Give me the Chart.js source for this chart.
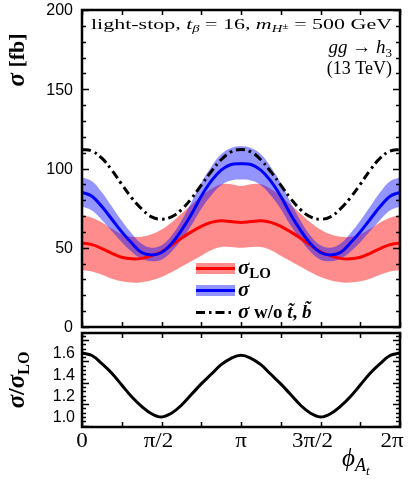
<!DOCTYPE html>
<html>
<head>
<meta charset="utf-8">
<script src="https://cdn.jsdelivr.net/npm/chart.js@4.4.1/dist/chart.umd.min.js"></script>
<style>
html, body { margin: 0; padding: 0; background: #fff; }
#wrap { position: relative; width: 410px; height: 492px; overflow: hidden; }
#top { position: absolute; left: 0; top: 0; }
#bot { position: absolute; left: 0; top: 327px; }
</style>
</head>
<body>
<div id="wrap">
  <canvas id="top" width="410" height="336"></canvas>
  <canvas id="bot" width="410" height="165"></canvas>
</div>
<script>
// phase phi_At in units of pi
const phi = [0, 0.0625, 0.125, 0.1875, 0.25, 0.3125, 0.375, 0.4375, 0.5, 0.5625, 0.625, 0.6875, 0.75, 0.8125, 0.875, 0.9375, 1,
             1.0625, 1.125, 1.1875, 1.25, 1.3125, 1.375, 1.4375, 1.5, 1.5625, 1.625, 1.6875, 1.75, 1.8125, 1.875, 1.9375, 2];

// sigma_LO [fb] with scale band
const sigmaLO   = [53, 52, 49.5, 46.5, 44, 43, 43.3, 45, 47.5, 51.5, 56, 60, 63.5, 66, 67, 66.5, 66,
                   66.5, 67, 66, 63.5, 60, 56, 51.5, 47.5, 45, 43.3, 43, 44, 46.5, 49.5, 52, 53];
const sigmaLOup = [70.5, 69, 66, 62, 58.5, 57, 57, 58.5, 61.5, 66, 71.5, 77, 82.5, 87, 90, 90, 89,
                   90, 90, 87, 82.5, 77, 71.5, 66, 61.5, 58.5, 57, 57, 58.5, 62, 66, 69, 70.5];
const sigmaLOdn = [36, 35, 33, 30.5, 28.8, 28, 28.3, 29.5, 31.5, 34.5, 38, 41.5, 45, 48.5, 50.5, 50.5, 50,
                   50.5, 50.5, 48.5, 45, 41.5, 38, 34.5, 31.5, 29.5, 28.3, 28, 28.8, 30.5, 33, 35, 36];

// sigma (NLO) [fb] with band
const sigma   = [85, 82.5, 76, 68, 60, 53, 47, 45.5, 47, 52.5, 61, 71, 82.5, 92, 99, 102.5, 103,
                 102.5, 99, 92, 82.5, 71, 61, 52.5, 47, 45.5, 47, 53, 60, 68, 76, 82.5, 85];
const sigmaUp = [94.5, 92, 85, 76, 67, 59, 52.5, 50, 51.5, 57.5, 67, 78.5, 91, 101, 109, 113, 114,
                 113, 109, 101, 91, 78.5, 67, 57.5, 51.5, 50, 52.5, 59, 67, 76, 85, 92, 94.5];
const sigmaDn = [76, 73.5, 67.5, 60.5, 53.5, 47.5, 43, 41.5, 42.5, 47.5, 55, 64, 74.5, 83, 89.5, 92.5, 93,
                 92.5, 89.5, 83, 74.5, 64, 55, 47.5, 42.5, 41.5, 43, 47.5, 53.5, 60.5, 67.5, 73.5, 76];

// sigma without stops/sbottoms
const sigmaNoSq = [112, 111, 106.5, 99, 90, 81.5, 74.5, 69.5, 68, 69.5, 74, 81, 89.5, 98, 105.5, 110.5, 112,
                   110.5, 105.5, 98, 89.5, 81, 74, 69.5, 68, 69.5, 74.5, 81.5, 90, 99, 106.5, 111, 112];

// ratio sigma / sigma_LO
const ratio = [1.60, 1.576, 1.50, 1.41, 1.30, 1.19, 1.10, 1.03, 1.0, 1.035, 1.11, 1.21, 1.31, 1.40, 1.49, 1.55, 1.578,
               1.55, 1.49, 1.40, 1.31, 1.21, 1.11, 1.035, 1.0, 1.03, 1.10, 1.19, 1.30, 1.41, 1.50, 1.576, 1.60];

const xTicks = [0, 0.5, 1, 1.5, 2];
const xTickLabels = ['0', 'π/2', 'π', '3π/2', '2π'];
const yTicksTop = [0, 50, 100, 150, 200];
const yTicksBot = [1.0, 1.2, 1.4, 1.6];

const SERIF = '"Liberation Serif", "DejaVu Serif", serif';
const SANS = '"Liberation Sans", Arial, sans-serif';
const RED = '#ff0000', BLUE = '#0000ff';
const RED_BAND = 'rgba(255, 0, 0, 0.45)', BLUE_BAND = 'rgba(0, 0, 255, 0.42)';

const pts = arr => phi.map((p, i) => ({ x: p, y: arr[i] }));

// draw a run of text pieces [text, font, dy]
function rich(ctx, parts, x, y, align, sx) {
  sx = sx || 1;
  let w = 0;
  for (const p of parts) { ctx.font = p[1]; w += ctx.measureText(p[0]).width; }
  ctx.save();
  ctx.textAlign = 'left';
  ctx.translate(x, y);
  ctx.scale(sx, 1);
  let cx = align === 'right' ? -w : align === 'center' ? -w / 2 : 0;
  for (const p of parts) {
    ctx.font = p[1];
    ctx.fillText(p[0], cx, p[2] || 0);
    cx += ctx.measureText(p[0]).width;
  }
  ctx.restore();
  return w;
}
function richWidth(ctx, parts) {
  let w = 0;
  for (const p of parts) { ctx.font = p[1]; w += ctx.measureText(p[0]).width; }
  return w;
}

function ticks(ctx, a, x, y, xStep, yMinor, yMajorEvery, yLo, yHi) {
  ctx.beginPath();
  for (let v = 0; v <= 2.0001; v += xStep) {
    const px = Math.round(x.getPixelForValue(v)) + 0.5;
    ctx.moveTo(px, a.top); ctx.lineTo(px, a.top + 5);
    ctx.moveTo(px, a.bottom); ctx.lineTo(px, a.bottom - 5);
  }
  let n = 0;
  for (let v = yLo; v <= yHi + 1e-6; v += yMinor, n++) {
    const py = Math.round(y.getPixelForValue(v)) + 0.5;
    const len = n % yMajorEvery === 0 ? 7 : 4;
    ctx.moveTo(a.left, py); ctx.lineTo(a.left + len, py);
    ctx.moveTo(a.right, py); ctx.lineTo(a.right - len, py);
  }
  ctx.stroke();
}

const topDecor = {
  id: 'topDecor',
  afterDraw(chart) {
    const { ctx, chartArea: a, scales: { x, y } } = chart;
    ctx.save();
    ctx.strokeStyle = '#000';
    ctx.fillStyle = '#000';
    ctx.lineWidth = 1.5;
    ticks(ctx, a, x, y, 0.25, 10, 5, 0, 200);
    ctx.lineWidth = 2.5;
    ctx.strokeRect(a.left, a.top, a.right - a.left, a.bottom - a.top);

    // tick labels
    ctx.font = '16px ' + SANS;
    ctx.textAlign = 'right';
    ctx.textBaseline = 'middle';
    yTicksTop.forEach(v => ctx.fillText(String(v), a.left - 9, y.getPixelForValue(v) + 1));
    ctx.textBaseline = 'alphabetic';

    // y title
    ctx.save();
    ctx.translate(24, 60);
    ctx.rotate(-Math.PI / 2);
    rich(ctx, [['σ', `bold italic 25px ${SERIF}`], [' [fb]', `bold 22px ${SERIF}`]], 0, 0, 'center');
    ctx.restore();

    // header
    const head = [
      ['light-stop, ', `15px ${SERIF}`], ['t', `italic 15px ${SERIF}`], ['β', `italic 10px ${SERIF}`, 3],
      [' = 16, ', `15px ${SERIF}`], ['m', `italic 15px ${SERIF}`], ['H', `italic 10px ${SERIF}`, 3],
      ['±', `8px ${SERIF}`, 0], [' = 500 GeV', `15px ${SERIF}`]
    ];
    const hw = richWidth(ctx, head);
    rich(ctx, head, 91, 29, 'left', (392 - 91) / hw);
    rich(ctx, [['gg → h', `italic 19px ${SERIF}`], ['3', `13px ${SERIF}`, 4]], 392, 53, 'right');
    rich(ctx, [['(13 TeV)', `18px ${SERIF}`]], 392, 74, 'right');

    // legend
    const lx0 = 196, lx1 = 235;
    ctx.fillStyle = RED_BAND; ctx.fillRect(lx0, 263, lx1 - lx0, 11);
    ctx.fillStyle = BLUE_BAND; ctx.fillRect(lx0, 285, lx1 - lx0, 11);
    ctx.lineWidth = 3;
    ctx.strokeStyle = RED; ctx.beginPath(); ctx.moveTo(lx0, 268.5); ctx.lineTo(lx1, 268.5); ctx.stroke();
    ctx.strokeStyle = BLUE; ctx.beginPath(); ctx.moveTo(lx0, 290.5); ctx.lineTo(lx1, 290.5); ctx.stroke();
    ctx.strokeStyle = '#000'; ctx.setLineDash([9, 4, 2.5, 4]);
    ctx.beginPath(); ctx.moveTo(lx0, 312.5); ctx.lineTo(lx1, 312.5); ctx.stroke();
    ctx.setLineDash([]);
    ctx.fillStyle = '#000';
    rich(ctx, [['σ', `bold italic 21px ${SERIF}`], ['LO', `bold 15px ${SERIF}`, 4]], 238, 274, 'left');
    rich(ctx, [['σ', `bold italic 21px ${SERIF}`]], 238, 296, 'left');
    rich(ctx, [['σ', `bold italic 21px ${SERIF}`], [' w/o ', `bold 19px ${SERIF}`], ['t\u0303', `bold italic 19px ${SERIF}`],
               [', ', `bold 19px ${SERIF}`], ['b\u0303', `bold italic 19px ${SERIF}`]], 238, 318, 'left');
    ctx.restore();
  }
};

const botDecor = {
  id: 'botDecor',
  afterDraw(chart) {
    const { ctx, chartArea: a, scales: { x, y } } = chart;
    ctx.save();
    ctx.strokeStyle = '#000';
    ctx.fillStyle = '#000';
    ctx.lineWidth = 1.5;
    ticks(ctx, a, x, y, 0.25, 0.04, 5, 0.92, 1.76);
    ctx.lineWidth = 2.5;
    ctx.strokeRect(a.left, a.top, a.right - a.left, a.bottom - a.top);

    ctx.font = '16px ' + SANS;
    ctx.textAlign = 'right';
    ctx.textBaseline = 'middle';
    yTicksBot.forEach(v => ctx.fillText(v.toFixed(1), a.left - 7, y.getPixelForValue(v) + 1));
    ctx.textBaseline = 'alphabetic';

    const dx = [0, -3, 0, -8, -8];
    xTicks.forEach((v, i) => {
      rich(ctx, [[xTickLabels[i], `20px ${SERIF}`]], x.getPixelForValue(v) + dx[i], a.bottom + 20, 'center', 1.15);
    });

    // x title
    rich(ctx, [['\u03D5', `italic 25px ${SERIF}`], ['A', `italic 18px ${SERIF}`, 5], ['t', `italic 13px ${SERIF}`, 9]], 342, a.bottom + 39, 'left');

    // y title
    ctx.save();
    ctx.translate(24, 53);
    ctx.rotate(-Math.PI / 2);
    rich(ctx, [['σ', `bold italic 25px ${SERIF}`], ['/', `bold 24px ${SERIF}`], ['σ', `bold italic 25px ${SERIF}`],
               ['LO', `bold 16px ${SERIF}`, 5]], 0, 0, 'center');
    ctx.restore();
    ctx.restore();
  }
};

const lineDefaults = { pointRadius: 0, tension: 0.4 };

new Chart(document.getElementById('top'), {
  type: 'line',
  data: {
    datasets: [
      { ...lineDefaults, data: pts(sigmaLOup), borderWidth: 0, backgroundColor: RED_BAND, fill: '+1', order: 7 },
      { ...lineDefaults, data: pts(sigmaLOdn), borderWidth: 0, fill: false, order: 6 },
      { ...lineDefaults, data: pts(sigmaUp), borderWidth: 0, backgroundColor: BLUE_BAND, fill: '+1', order: 5 },
      { ...lineDefaults, data: pts(sigmaDn), borderWidth: 0, fill: false, order: 4 },
      { ...lineDefaults, data: pts(sigmaLO), borderColor: RED, borderWidth: 3, fill: false, order: 3 },
      { ...lineDefaults, data: pts(sigma), borderColor: BLUE, borderWidth: 3, fill: false, order: 2 },
      { ...lineDefaults, data: pts(sigmaNoSq), borderColor: '#000', borderWidth: 3, borderDash: [9, 4, 2.5, 4], fill: false, order: 1 }
    ]
  },
  options: {
    responsive: false,
    animation: false,
    layout: { padding: { left: 82, right: 10, top: 10, bottom: 9 } },
    plugins: { legend: { display: false }, tooltip: { enabled: false } },
    scales: {
      x: { type: 'linear', min: 0, max: 2, display: false },
      y: { min: 0, max: 200, display: false }
    }
  },
  plugins: [topDecor]
});

new Chart(document.getElementById('bot'), {
  type: 'line',
  data: {
    datasets: [
      { ...lineDefaults, data: pts(ratio), borderColor: '#000', borderWidth: 3, fill: false }
    ]
  },
  options: {
    responsive: false,
    animation: false,
    layout: { padding: { left: 82, right: 10, top: 6, bottom: 65 } },
    plugins: { legend: { display: false }, tooltip: { enabled: false } },
    scales: {
      x: { type: 'linear', min: 0, max: 2, display: false },
      y: { min: 0.906, max: 1.787, display: false }
    }
  },
  plugins: [botDecor]
});
</script>
</body>
</html>
